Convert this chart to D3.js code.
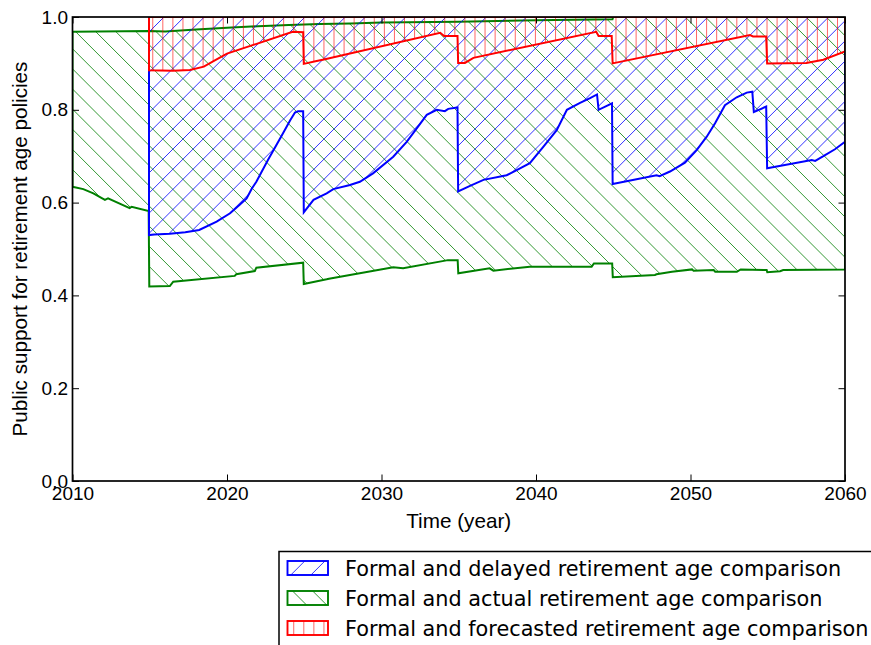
<!DOCTYPE html>
<html>
<head>
<meta charset="utf-8">
<script src="https://cdn.jsdelivr.net/npm/d3@7"></script>
<style>
  body { margin: 0; background: #ffffff; }
  svg { display: block; }
</style>
</head>
<body>
<svg id="chart" width="871" height="645"></svg>
<script>
// ---- data: [year, public support] ----
const greenUpper = [
  [2010, 0.968], [2015, 0.970], [2016, 0.969], [2018, 0.973], [2020, 0.977],
  [2022, 0.980], [2024, 0.983], [2026, 0.985], [2028, 0.986], [2030, 0.988],
  [2035, 0.990], [2040, 0.993], [2044.95, 0.995], [2045.0, 1.0], [2060, 1.0]
];
const greenLower = [
  [2010, 0.634], [2010.7, 0.629], [2011.35, 0.620], [2012.1, 0.606], [2012.3, 0.609],
  [2013.7, 0.588], [2013.83, 0.591], [2014.93, 0.582], [2014.97, 0.419], [2016.3, 0.420],
  [2016.52, 0.4295], [2020.5, 0.442], [2020.6, 0.4455], [2021.8, 0.4526], [2021.9, 0.4597],
  [2024.93, 0.4705], [2024.97, 0.4246], [2026.45, 0.4347], [2026.6, 0.436], [2030.76, 0.4605],
  [2031.4, 0.4583], [2034.3, 0.476], [2034.93, 0.476], [2034.97, 0.4476], [2037.0, 0.4583],
  [2037.24, 0.4533], [2039.6, 0.462], [2043.6, 0.462], [2043.75, 0.469], [2044.93, 0.469],
  [2044.97, 0.439], [2047.7, 0.444], [2047.8, 0.4455], [2048.8, 0.451], [2050.1, 0.456],
  [2050.2, 0.4533], [2051.5, 0.4547], [2051.6, 0.451], [2053.0, 0.451], [2053.25, 0.456],
  [2054.93, 0.4547], [2054.97, 0.450], [2055.8, 0.452], [2056.0, 0.4547], [2060, 0.456]
];
const delayed = [
  [2014.95, 0.530], [2015.3, 0.531], [2016.3, 0.533], [2017.3, 0.536], [2018.2, 0.541],
  [2019.33, 0.559], [2020.2, 0.577], [2020.84, 0.596], [2021.27, 0.609], [2021.6, 0.630],
  [2021.9, 0.645], [2022.65, 0.692], [2023.5, 0.742], [2024.1, 0.778], [2024.4, 0.794],
  [2024.6, 0.797], [2024.93, 0.797], [2024.97, 0.579], [2025.6, 0.606], [2026.45, 0.620],
  [2026.88, 0.629], [2027.96, 0.638], [2028.6, 0.645], [2029.45, 0.663], [2030.76, 0.699],
  [2031.63, 0.731], [2032.28, 0.760], [2032.93, 0.789], [2033.57, 0.800], [2034.1, 0.797],
  [2034.32, 0.802], [2034.92, 0.805], [2034.96, 0.624], [2035.73, 0.636], [2036.6, 0.649],
  [2038.1, 0.659], [2038.75, 0.670], [2039.6, 0.685], [2040.47, 0.720], [2041.34, 0.756],
  [2042.0, 0.800], [2042.85, 0.815], [2043.5, 0.825], [2043.95, 0.833], [2044.05, 0.800],
  [2044.92, 0.814], [2044.96, 0.640], [2047.8, 0.659], [2048.0, 0.657], [2048.67, 0.667],
  [2049.64, 0.686], [2050.4, 0.713], [2051.05, 0.742], [2051.59, 0.771], [2052.23, 0.810],
  [2052.99, 0.827], [2053.64, 0.837], [2054.0, 0.839], [2054.1, 0.795], [2054.9, 0.807],
  [2054.96, 0.674], [2057.85, 0.692], [2058.07, 0.690], [2058.6, 0.700], [2059.35, 0.715],
  [2060, 0.731]
];
const forecasted = [
  [2014.95, 0.885], [2016.5, 0.884], [2017.6, 0.886], [2018.5, 0.893], [2019.3, 0.908],
  [2020.0, 0.921], [2024.25, 0.968], [2024.93, 0.967], [2024.97, 0.899], [2025.8, 0.905],
  [2026.2, 0.908], [2033.8, 0.966], [2034.05, 0.959], [2034.92, 0.959], [2034.96, 0.901],
  [2035.4, 0.901], [2035.95, 0.912], [2043.9, 0.968], [2044.05, 0.959], [2044.9, 0.959],
  [2044.96, 0.900], [2053.85, 0.961], [2054.05, 0.958], [2054.9, 0.958], [2054.96, 0.900],
  [2057.5, 0.901], [2058.6, 0.908], [2060, 0.926]
];
const xTicks = [2010, 2020, 2030, 2040, 2050, 2060];
const yTicks = [0.0, 0.2, 0.4, 0.6, 0.8, 1.0];
const legendLabels = [
  "Formal and delayed retirement age comparison",
  "Formal and actual retirement age comparison",
  "Formal and forecasted retirement age comparison"
];

// ---- layout ----
const svg = d3.select("#chart");
const plot = { left: 72.5, right: 845, top: 17, bottom: 481 };
const x = d3.scaleLinear().domain([2010, 2060]).range([plot.left, plot.right]);
const y = d3.scaleLinear().domain([0, 1]).range([plot.bottom, plot.top]);

const AXIS_FONT = "'Liberation Sans', Arial, sans-serif";
const LEGEND_FONT = "'DejaVu Sans', sans-serif";

const defs = svg.append("defs");
defs.append("clipPath").attr("id", "plotClip")
  .append("rect")
  .attr("x", plot.left).attr("y", plot.top)
  .attr("width", plot.right - plot.left).attr("height", plot.bottom - plot.top);

// hatch geometry (shared grid across all hatched patches)
const DIAG = 20.14, VERT = 10.07;
const BACK_PHASE = 16.5, FWD_PHASE = 19.9, VERT_PHASE = 1.7;

function mod(a, m) { return ((a % m) + m) % m; }

function hatchSegments(kind, x0, y0, x1, y1) {
  const segs = [];
  if (kind === "|") {
    let xx = x0 + mod(VERT_PHASE - x0, VERT);
    for (; xx <= x1; xx += VERT) segs.push([xx, y0, xx, y1]);
  } else if (kind === "\\") {          // lines with y - x constant
    const cmin = y0 - x1, cmax = y1 - x0;
    for (let c = cmin + mod(BACK_PHASE - cmin, DIAG); c <= cmax; c += DIAG)
      segs.push([x0, x0 + c, x1, x1 + c]);
  } else {                               // "/" lines with x + y constant
    const cmin = x0 + y0, cmax = x1 + y1;
    for (let c = cmin + mod(FWD_PHASE - cmin, DIAG); c <= cmax; c += DIAG)
      segs.push([x0, c - x0, x1, c - x1]);
  }
  return segs;
}

function drawHatch(g, kind, color, x0, y0, x1, y1) {
  const opacity = kind === "|" ? 0.6 : 0.8;
  g.selectAll(null).data(hatchSegments(kind, x0, y0, x1, y1)).join("line")
    .attr("x1", d => d[0]).attr("y1", d => d[1])
    .attr("x2", d => d[2]).attr("y2", d => d[3])
    .attr("stroke", color).attr("stroke-width", 1).attr("stroke-opacity", opacity);
}

const line = d3.line();
function bandPath(upper, lower) {
  const pts = upper.map(([t, v]) => [x(t), y(v)])
    .concat(lower.slice().reverse().map(([t, v]) => [x(t), y(v)]));
  return line(pts) + "Z";
}

const chartG = svg.append("g").attr("clip-path", "url(#plotClip)");

function drawBand(id, upper, lower, kind, color) {
  const d = bandPath(upper, lower);
  defs.append("clipPath").attr("id", id).append("path").attr("d", d);
  const hg = chartG.append("g").attr("clip-path", `url(#${id})`);
  drawHatch(hg, kind, color, plot.left, plot.top, plot.right, plot.bottom);
  chartG.append("path").attr("d", d)
    .attr("fill", "none").attr("stroke", color)
    .attr("stroke-width", 2).attr("stroke-linejoin", "miter");
}

const topOf = s => [[s[0][0], 1.0], [s[s.length - 1][0], 1.0]];

drawBand("bandActual", greenUpper, greenLower, "\\", "#008000");
drawBand("bandDelayed", topOf(delayed), delayed, "/", "#0000ff");
drawBand("bandForecast", topOf(forecasted), forecasted, "|", "#ff0000");

// ---- axes (ticks on all four sides, pointing inwards) ----
const TICK = 6.5;
function styleAxis(g) {
  g.select(".domain").remove();
  g.selectAll(".tick line").attr("stroke", "#000").attr("stroke-width", 1);
  g.selectAll(".tick text").attr("fill", "#000")
    .style("font-family", AXIS_FONT).style("font-size", "19px");
}
svg.append("g").attr("transform", `translate(0,${plot.bottom})`)
  .call(d3.axisBottom(x).tickValues(xTicks).tickFormat(d3.format("d"))
    .tickSizeInner(-TICK).tickSizeOuter(0).tickPadding(6))
  .call(styleAxis);
svg.append("g").attr("transform", `translate(0,${plot.top})`)
  .call(d3.axisTop(x).tickValues(xTicks).tickFormat("")
    .tickSizeInner(-TICK).tickSizeOuter(0))
  .call(styleAxis);
svg.append("g").attr("transform", `translate(${plot.left},0)`)
  .call(d3.axisLeft(y).tickValues(yTicks).tickFormat(d3.format(".1f"))
    .tickSizeInner(-TICK).tickSizeOuter(0).tickPadding(4.5))
  .call(styleAxis);
svg.append("g").attr("transform", `translate(${plot.right},0)`)
  .call(d3.axisRight(y).tickValues(yTicks).tickFormat("")
    .tickSizeInner(-TICK).tickSizeOuter(0))
  .call(styleAxis);

svg.append("rect")
  .attr("x", plot.left).attr("y", plot.top)
  .attr("width", plot.right - plot.left).attr("height", plot.bottom - plot.top)
  .attr("fill", "none").attr("stroke", "#000").attr("stroke-width", 1.7);

svg.append("text")
  .attr("x", (plot.left + plot.right) / 2).attr("y", 528)
  .attr("text-anchor", "middle")
  .style("font-family", AXIS_FONT).style("font-size", "20.7px")
  .text("Time (year)");
svg.append("text")
  .attr("transform", `translate(27,${(plot.top + plot.bottom) / 2}) rotate(-90)`)
  .attr("text-anchor", "middle")
  .style("font-family", AXIS_FONT).style("font-size", "20.7px")
  .text("Public support for retirement age policies");

// ---- legend ----
const legendColors = ["#0000ff", "#008000", "#ff0000"];
const legendHatches = ["/", "\\", "|"];
const lg = svg.append("g");
lg.append("rect")
  .attr("x", 279).attr("y", 551.5).attr("width", 620).attr("height", 120)
  .attr("fill", "#fff").attr("stroke", "#000").attr("stroke-width", 1.5);

legendLabels.forEach((label, i) => {
  const px = 287.5, py = 561 + i * 30, pw = 40.5, ph = 14;
  const cid = `legendClip${i}`;
  defs.append("clipPath").attr("id", cid).append("rect")
    .attr("x", px).attr("y", py).attr("width", pw).attr("height", ph);
  const hg = lg.append("g").attr("clip-path", `url(#${cid})`);
  drawHatch(hg, legendHatches[i], legendColors[i], px, py, px + pw, py + ph);
  lg.append("rect").attr("x", px).attr("y", py).attr("width", pw).attr("height", ph)
    .attr("fill", "none").attr("stroke", legendColors[i]).attr("stroke-width", 1.9);
  lg.append("text")
    .attr("x", 345).attr("y", py + 15)
    .style("font-family", LEGEND_FONT).style("font-size", "20.8px")
    .attr("fill", "#000")
    .text(label);
});
</script>
</body>
</html>
